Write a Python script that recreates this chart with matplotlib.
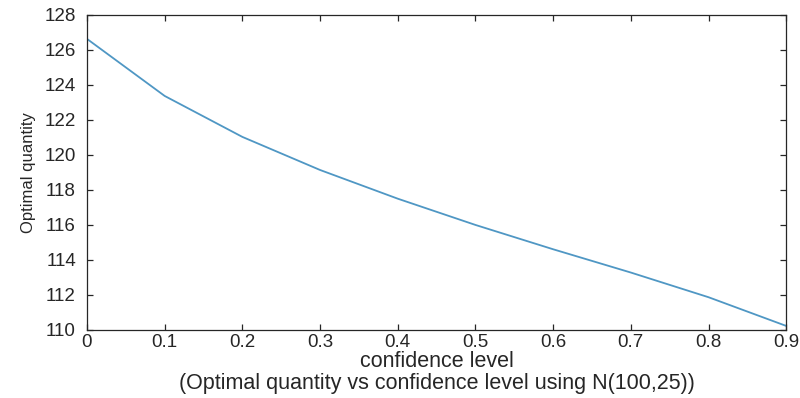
import numpy as np
import matplotlib.pyplot as plt

# confidence level vs optimal order quantity, N(100,25) demand
conf_level = [0.0, 0.1, 0.2, 0.3, 0.4, 0.5, 0.6, 0.7, 0.8, 0.9]
opt_qty = [126.63, 123.37, 121.03, 119.14, 117.50, 116.00, 114.61, 113.28, 111.87, 110.23]
x_ticks = [0, 0.1, 0.2, 0.3, 0.4, 0.5, 0.6, 0.7, 0.8, 0.9]
x_labels = ['0', '0.1', '0.2', '0.3', '0.4', '0.5', '0.6', '0.7', '0.8', '0.9']
y_ticks = [110, 112, 114, 116, 118, 120, 122, 124, 126, 128]

plt.rcParams['font.family'] = ['Liberation Sans', 'DejaVu Sans']

fig = plt.figure(figsize=(8, 3.98), dpi=100)
ax = fig.add_axes([0.10875, 0.171, 0.874, 0.7915])

ax.plot(conf_level, opt_qty, color='#4f97c4', linewidth=1.3)

ax.set_xlim(0, 0.9)
ax.set_ylim(110, 128)
ax.set_xticks(x_ticks)
ax.set_xticklabels(x_labels)
ax.set_yticks(y_ticks)

ax.tick_params(direction='in', top=True, right=True, length=4, width=0.9,
               colors='#262626', labelsize=13.5, pad=4)
ax.tick_params(axis='x', pad=3)
ax.tick_params(axis='y', pad=8)
for s in ax.spines.values():
    s.set_color('#262626')
    s.set_linewidth(0.9)

ax.set_xlabel('confidence level\n(Optimal quantity vs confidence level using N(100,25))',
              fontsize=15.5, color='#262626', labelpad=0, linespacing=1.05)
ax.set_ylabel('Optimal quantity', family=['Liberation Sans Narrow', 'Liberation Sans'],
              fontsize=12, color='#262626', labelpad=6)

fig.savefig('out.png', dpi=100)
